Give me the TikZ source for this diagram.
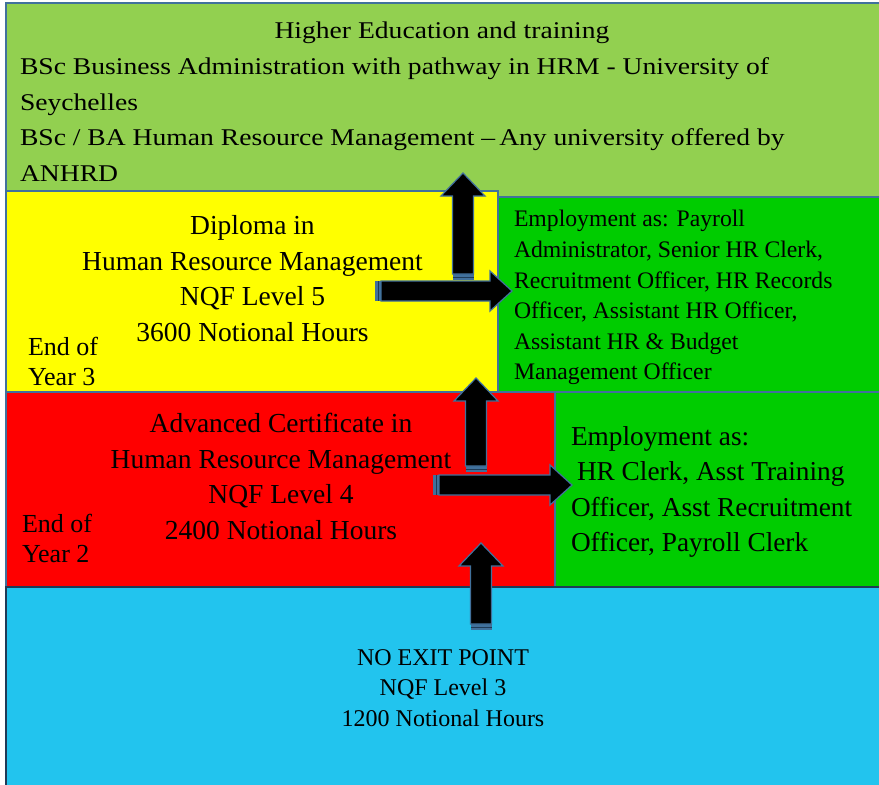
\documentclass[tikz,border=0pt]{standalone}
\usepackage{fontspec}
\setmainfont{Liberation Serif}
\newfontfamily\hefont[FakeStretch=1.15]{Liberation Serif}

\definecolor{hegreen}{HTML}{92D050}
\definecolor{diplyellow}{HTML}{FFFF00}
\definecolor{jobgreen}{HTML}{00CC00}
\definecolor{certred}{HTML}{FF0000}
\definecolor{baseblue}{HTML}{22C4EE}
\definecolor{edgeblue}{HTML}{41719C}
\definecolor{darkedge}{HTML}{1F3B57}

% block arrow pointing up: centre x, tail y, tip y
\newcommand{\progup}[3]{%
  \fill[edgeblue] (#1-10.5,#2) rectangle (#1+10.5,#2-6);
  \draw[darkedge, thin] (#1-10.5,#2-3) -- (#1+10.5,#2-3);
  \draw[arrowblk] (#1-10.5,#2-6) -- (#1-10.5,#3+23) -- (#1-22,#3+23)
    -- (#1,#3) -- (#1+22,#3+23) -- (#1+10.5,#3+23) -- (#1+10.5,#2-6) -- cycle;
}
% block arrow pointing right: centre y, tail x, tip x
\newcommand{\progright}[3]{%
  \fill[edgeblue] (#2,#1-10) rectangle (#2+6,#1+10);
  \draw[darkedge, thin] (#2+3,#1-10) -- (#2+3,#1+10);
  \draw[arrowblk] (#2+6,#1-10) -- (#3-22,#1-10) -- (#3-22,#1-20)
    -- (#3,#1) -- (#3-22,#1+20) -- (#3-22,#1+10) -- (#2+6,#1+10) -- cycle;
}

\begin{document}
\begin{tikzpicture}[
    x=1pt, y=-1pt,
    box/.style={draw=edgeblue, line width=1.2pt, inner sep=0pt,
        outer sep=0pt, anchor=north west},
    label/.style={inner sep=0pt, outer sep=0pt},
    arrowblk/.style={fill=black, draw=edgeblue, line width=1.2pt,
        line join=miter}
]
    \useasboundingbox (0,0) rectangle (879,785);
    \fill[white] (0,0) rectangle (879,785);

    % stages
    \node[box, fill=hegreen, minimum width=890pt, minimum height=200pt] (hebox) at (6,3) {};
    \node[box, fill=diplyellow, minimum width=492pt, minimum height=201pt] (diplbox) at (6,191) {};
    \node[box, fill=jobgreen, minimum width=390pt, minimum height=195pt] (jobsdiplbox) at (498,197) {};
    \node[box, fill=certred, minimum width=549pt, minimum height=195pt] (certbox) at (6,392) {};
    \node[box, fill=jobgreen, minimum width=330pt, minimum height=195pt] (jobscertbox) at (555,392) {};
    \node[box, fill=baseblue, draw=darkedge, line width=2pt,
        minimum width=880pt, minimum height=205pt] (basebox) at (6,587) {};

    % texts
    \node[label, anchor=base, font=\hefont\fontsize{24}{35.7}\selectfont] (hetitle) at (442,38)
        {Higher Education and training};
    \node[label, anchor=north west, align=left, font=\hefont\fontsize{24}{35.7}\selectfont] (hedegrees) at (20,57.5)
        {BSc Business Administration with pathway in HRM - University of\\
         Seychelles\\
         BSc / BA Human Resource Management –\,Any university offered by\\
         ANHRD};
    \node[label, anchor=north, align=center, font=\fontsize{27.5}{35.5}\selectfont] (diploma) at (252.5,215.5)
        {Diploma in\\Human Resource Management\\NQF Level 5\\3600 Notional Hours};
    \node[label, anchor=north west, align=left, font=\fontsize{26}{30}\selectfont] (endyear3) at (28,337)
        {End of\\Year 3};
    \node[label, anchor=north west, align=left, font=\fontsize{23.7}{30.6}\selectfont] (jobsdipl) at (514,210.5)
        {Employment as: Payroll\\Administrator, Senior HR Clerk,\\Recruitment Officer, HR Records\\
         Officer, Assistant HR Officer,\\Assistant HR \& Budget\\Management Officer};
    \node[label, anchor=north, align=center, font=\fontsize{27.5}{35.5}\selectfont] (advcert) at (281,413.5)
        {Advanced Certificate in\\Human Resource Management\\NQF Level 4\\2400 Notional Hours};
    \node[label, anchor=north west, align=left, font=\fontsize{26}{30}\selectfont] (endyear2) at (22,514)
        {End of\\Year 2};
    \node[label, anchor=north west, align=left, font=\fontsize{27.3}{35.5}\selectfont] (jobscert) at (571,426.5)
        {Employment as:\\\hspace*{6pt}HR Clerk, Asst Training\\Officer, Asst Recruitment\\Officer, Payroll Clerk};
    \node[label, anchor=north, align=center, font=\fontsize{24}{30.5}\selectfont] (noexit) at (443,649.5)
        {NO EXIT POINT\\NQF Level 3\\1200 Notional Hours};

    % progression arrows
    \progup{463}{280}{173}
    \progright{291}{375}{512}
    \progup{476}{472}{378}
    \progright{485}{433}{572}
    \progup{481}{630}{543}
\end{tikzpicture}
\end{document}
